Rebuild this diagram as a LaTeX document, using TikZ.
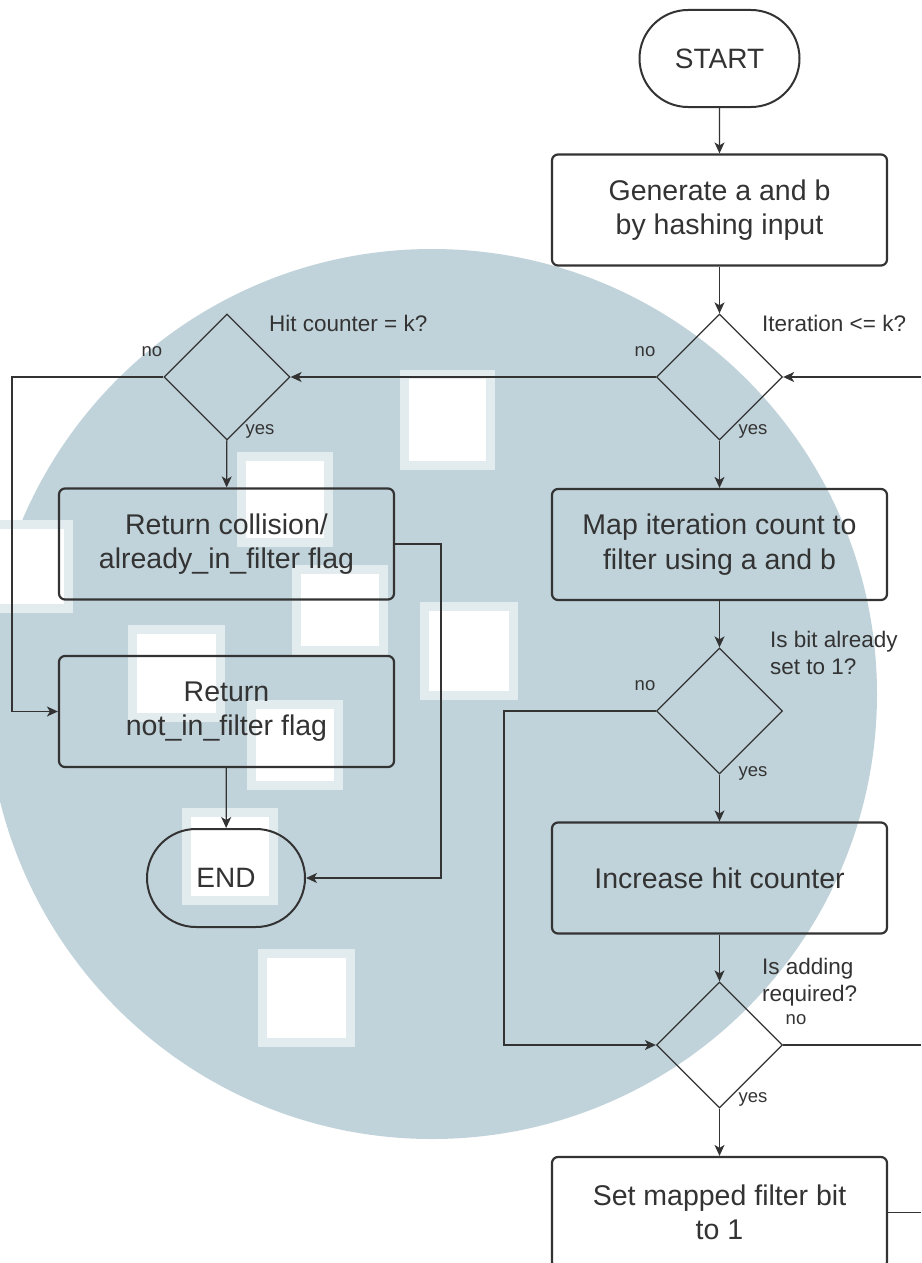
\documentclass[tikz,border=0pt]{standalone}
\usepackage{fontspec}
\setmainfont{Liberation Sans}
\usetikzlibrary{shapes.geometric,shapes.misc,arrows.meta}

\definecolor{ink}{HTML}{333333}
\definecolor{wm}{HTML}{C1D3DA}
\definecolor{wmedge}{HTML}{E2EBEE}

\tikzset{
  boxnode/.style={draw=ink, line width=2.2pt, rounded corners=6pt,
    minimum width=335pt, minimum height=111pt, align=center, inner sep=0pt,
    text=ink, font=\fontsize{28.5}{34.5}\selectfont},
  termnode/.style={draw=ink, line width=2pt, rounded rectangle,
    minimum width=160pt, minimum height=97pt, inner sep=0pt,
    text=ink, font=\fontsize{28}{33}\selectfont},
  decnode/.style={draw=ink, line width=1.3pt, diamond, aspect=1,
    minimum width=126pt, minimum height=126pt, inner sep=0pt},
  qlabel/.style={anchor=west, align=left, inner sep=0pt, text=ink,
    font=\fontsize{22.5}{26.5}\selectfont},
  ynlabel/.style={inner sep=0pt, text=ink, font=\fontsize{18.5}{22}\selectfont},
  flow/.style={draw=ink, line width=1.3pt},
  arr/.style={flow, -{Stealth[length=11pt, width=10pt, inset=3pt]}},
  wmsq/.style={fill=wmedge},
  wmcore/.style={fill=white}
}

\begin{document}
\begin{tikzpicture}[x=1pt, y=-1pt]
\clip (0,0) rectangle (921,1263);
\fill[white] (0,0) rectangle (921,1263);

% background emblem: pale disc with white squares
\fill[wm] (432,694) circle[radius=445];
\foreach \xa/\ya/\xb/\yb in {
  400/370/495/470, 237/452/333/547, 292/565/388/655, 420/602/518/700,
  128/625/225/722, 247/700/343/790, 182/808/278/905, 258/949/355/1047,
  -10/520/73/613} {
  \fill[wmsq] (\xa,\ya) rectangle (\xb,\yb);
  \fill[wmcore] (\xa+9,\ya+9) rectangle (\xb-9,\yb-9);
}

% nodes of the flow chart
\node[termnode] (start) at (719.5,58.5) {START};
\node[boxnode] (gen) at (719.5,210) {Generate a and b\\by hashing input};
\node[decnode] (iter) at (719.5,377) {};
\node[decnode] (hit) at (227,377) {};
\node[boxnode] (coll) at (226.5,544) {Return collision/\\already\_in\_filter flag};
\node[boxnode] (notin) at (226.5,711.5) {Return\\not\_in\_filter flag};
\node[termnode, minimum width=158pt, minimum height=98pt] (end) at (226,878) {END};
\node[boxnode] (map) at (719.5,544.5) {Map iteration count to\\filter using a and b};
\node[decnode] (bit) at (719.5,711) {};
\node[boxnode] (inc) at (719.5,878) {Increase hit counter};
\node[decnode] (add) at (719.5,1045) {};
\node[boxnode] (setbit) at (719.5,1212.5) {Set mapped filter bit\\to 1};

% decision texts and branch labels
\node[qlabel] (iterq) at (762,323) {Iteration <= k?};
\node[qlabel] (hitq) at (269,323) {Hit counter = k?};
\node[qlabel] (bitq) at (770,653) {Is bit already\\set to 1?};
\node[qlabel] (addq) at (762,982) {Is adding\\required?};
\node[ynlabel] (iterno) at (645,352) {no};
\node[ynlabel] (iteryes) at (753,431) {yes};
\node[ynlabel] (hitno) at (152,352) {no};
\node[ynlabel] (hityes) at (260,431) {yes};
\node[ynlabel] (bitno) at (645,686) {no};
\node[ynlabel] (bityes) at (753,773) {yes};
\node[ynlabel] (addno) at (796,1020) {no};
\node[ynlabel] (addyes) at (753,1099) {yes};

% rails used by the routed connectors
\coordinate (leftrail) at (12,0);
\coordinate (midrail) at (441,0);
\coordinate (norail) at (504,0);
\coordinate (rightedge) at (921,0);

% connectors
\draw[arr] (start) -- (gen);
\draw[arr] (gen) -- (iter);
\draw[arr] (iter) -- (map);
\draw[arr] (map) -- (bit);
\draw[arr] (bit) -- (inc);
\draw[arr] (inc) -- (add);
\draw[arr] (add) -- (setbit);
\draw[arr] (hit) -- (coll);
\draw[arr] (notin) -- (end);
\draw[arr] (iter.west) -- (hit.east);
\draw[arr] (iter.east -| rightedge) -- (iter.east);
\draw[arr] (hit.west) -- (hit.west -| leftrail) |- (notin.west);
\draw[arr] (coll.east) -- (coll.east -| midrail) |- (end.east);
\draw[arr] (bit.west) -- (bit.west -| norail) |- (add.west);
\draw[flow] (add.east) -- (add.east -| rightedge);
\draw[flow] (setbit.east) -- (setbit.east -| rightedge);
\end{tikzpicture}
\end{document}
